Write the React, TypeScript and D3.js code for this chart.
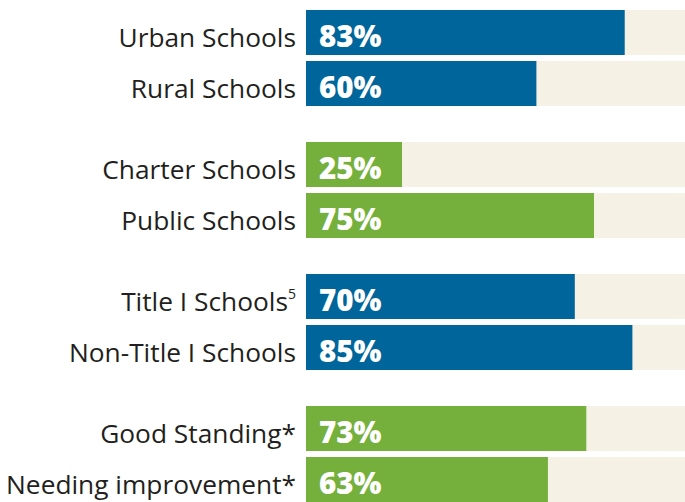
import React from "react";
import * as d3 from "d3";

const categories = [
  "Urban Schools",
  "Rural Schools",
  "Charter Schools",
  "Public Schools",
  "Title I Schools",
  "Non-Title I Schools",
  "Good Standing*",
  "Needing improvement*",
];
const superscripts = ["", "", "", "", "5", "", "", ""];
const values = [83, 60, 25, 75, 70, 85, 73, 63];
const groupIndex = [0, 0, 1, 1, 2, 2, 3, 3];
const groupColors = ["#00659A", "#76B03C", "#00659A", "#76B03C"];

const W = 685;
const H = 502;

export default function App() {
  const x = d3.scaleLinear().domain([0, 100]).range([306, 690]);
  const gY = d3.scaleLinear().domain([0, 1]).range([10, 142]);
  const rowStep = 51;
  const barH = 45;
  const rowInGroup = categories.map((_, i) =>
    categories.slice(0, i).filter((__, j) => groupIndex[j] === groupIndex[i]).length
  );

  return (
    <svg
      width={W}
      height={H}
      style={{ position: "absolute", left: 0, top: 0, background: "#fff" }}
    >
      {categories.map((c, i) => {
        const y = gY(groupIndex[i]) + rowInGroup[i] * rowStep;
        return (
          <g key={c}>
            <rect x={x(0)} y={y} width={x(100) - x(0)} height={barH} fill="#F5F2E5" />
            <rect x={x(0)} y={y} width={x(values[i]) - x(0)} height={barH} fill={groupColors[groupIndex[i]]} />
            <text
              x={x(0) + 13}
              y={y + 37}
              fill="#fff"
              fontFamily="'Open Sans', sans-serif"
              fontWeight={800}
              fontSize={29.5}
            >
              {values[i]}%
            </text>
            <text
              x={296}
              y={y + 37}
              textAnchor="end"
              fill="#231F20"
              fontFamily="'Open Sans', sans-serif"
              fontSize={26.3}
            >
              {c}
              {superscripts[i] ? (
                <tspan fontSize={14} dy={-12}>{superscripts[i]}</tspan>
              ) : null}
            </text>
          </g>
        );
      })}
    </svg>
  );
}
